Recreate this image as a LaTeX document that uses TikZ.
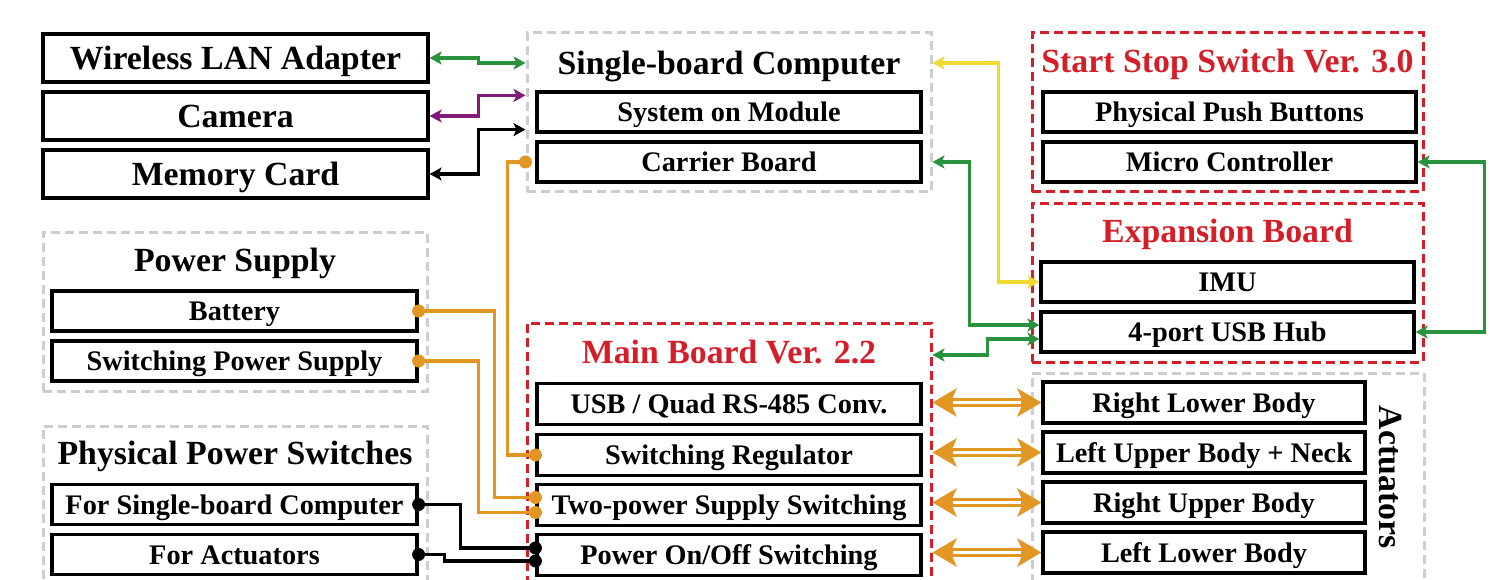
\documentclass[tikz,border=0pt]{standalone}
\usepackage{fontspec}
\setmainfont{Liberation Serif}
\usetikzlibrary{arrows.meta, calc}
\definecolor{LinkGreen}{RGB}{40, 146, 60}
\definecolor{LinkPurple}{RGB}{128, 28, 120}
\definecolor{LinkYellow}{RGB}{238, 218, 48}
\definecolor{LinkOrange}{RGB}{226, 150, 36}
\definecolor{GroupRed}{RGB}{212, 30, 40}
\definecolor{GroupGray}{RGB}{205, 205, 205}
\newcommand{\bigfont}{\fontsize{33.8}{36}\selectfont\bfseries}
\newcommand{\smallfont}{\fontsize{28.3}{30}\selectfont\bfseries}

\begin{document}
\begin{tikzpicture}[
        x=1pt, y=-1pt,
        box/.style={rectangle, draw=black, line width=3.2pt, inner sep=0pt, minimum height=40pt, align=center, font=\smallfont, text height=19pt, text depth=0pt},
        outerbox/.style={box, minimum width=385pt, minimum height=48pt, font=\bigfont, text height=22.6pt},
        redgroup/.style={rectangle, draw=GroupRed, line width=3pt, dash pattern=on 9pt off 5pt, inner sep=0pt},
        graygroup/.style={redgroup, draw=GroupGray},
        grouptitle/.style={inner sep=0pt, font=\bigfont, text height=22.6pt, text depth=0pt},
        link/.style={{Stealth[length=12pt, width=13pt, inset=3pt]}-{Stealth[length=12pt, width=13pt, inset=3pt]}, line width=3.6pt},
        conn/.style={line width=3.6pt},
        dblarrow/.style={{Stealth[length=24pt, width=28pt, inset=6pt]}-{Stealth[length=24pt, width=28pt, inset=6pt]}, line width=9.5pt, LinkOrange, postaction={draw=white, line width=2.8pt, -, shorten <=20pt, shorten >=20pt}}
    ]
        \useasboundingbox (0,0) rectangle (1506,580);
        \clip (0,0) rectangle (1506,580);

        % Groups
        \node[graygroup, minimum width=404pt, minimum height=159pt] (sbcgrp) at (729,112.5) {};
        \node[redgroup, minimum width=391pt, minimum height=159pt] (sssgrp) at (1227.5,112.5) {};
        \node[redgroup, minimum width=391pt, minimum height=159pt] (expgrp) at (1227.5,282.5) {};
        \node[graygroup, minimum width=384pt, minimum height=159pt] (psgrp) at (235,311.5) {};
        \node[graygroup, minimum width=384pt, minimum height=194pt] (ppsgrp) at (235,523) {};
        \node[redgroup, minimum width=404pt, minimum height=297pt] (maingrp) at (729,471.5) {};
        \node[graygroup, minimum width=392pt, minimum height=247pt] (actgrp) at (1228,496.5) {};

        % Group titles
        \node[grouptitle] (sbctitle) at (729,63) {Single-board Computer};
        \node[grouptitle, GroupRed] (ssstitle) at (1227.5,61) {Start Stop Switch Ver. 3.0};
        \node[grouptitle, GroupRed] (exptitle) at (1227.5,231) {Expansion Board};
        \node[grouptitle] (pstitle) at (235,260) {Power Supply};
        \node[grouptitle] (ppstitle) at (235,453) {Physical Power Switches};
        \node[grouptitle, GroupRed] (maintitle) at (729,352) {Main Board Ver. 2.2};
        \node[grouptitle, rotate=-90] (acttitle) at (1391,477) {Actuators};

        % Peripherals
        \node[outerbox] (wlan) at (235.5,58) {Wireless LAN Adapter};
        \node[outerbox] (cam) at (235.5,116) {Camera};
        \node[outerbox] (mem) at (235.5,174) {Memory Card};

        % Single-board computer
        \node[box, minimum width=384pt] (som) at (729,112) {System on Module};
        \node[box, minimum width=384pt] (carrier) at (729,162) {Carrier Board};

        % Start stop switch and expansion board
        \node[box, minimum width=373pt] (ppb) at (1229.5,112) {Physical Push Buttons};
        \node[box, minimum width=373pt] (mc) at (1229.5,162) {Micro Controller};
        \node[box, minimum width=373pt] (imu) at (1227.5,282) {IMU};
        \node[box, minimum width=373pt] (hub) at (1227.5,332) {4-port USB Hub};

        % Power
        \node[box, minimum width=365pt] (battery) at (234.5,311) {Battery};
        \node[box, minimum width=365pt] (sps) at (234.5,361) {Switching Power Supply};
        \node[box, minimum width=365pt] (forsbc) at (234.5,504.5) {For Single-board Computer};
        \node[box, minimum width=365pt] (foract) at (234.5,554.5) {For Actuators};

        % Main board
        \node[box, minimum width=384pt, minimum height=41pt] (usb) at (729,404) {USB / Quad RS-485 Conv.};
        \node[box, minimum width=384pt, minimum height=41pt] (swreg) at (729,455) {Switching Regulator};
        \node[box, minimum width=384pt, minimum height=41pt] (twops) at (729,505) {Two-power Supply Switching};
        \node[box, minimum width=384pt, minimum height=41pt] (pwr) at (729,555) {Power On/Off Switching};

        % Actuators
        \node[box, minimum width=322pt, minimum height=41pt] (rlb) at (1204,402.5) {Right Lower Body};
        \node[box, minimum width=322pt, minimum height=41pt] (lub) at (1204,452.5) {Left Upper Body + Neck};
        \node[box, minimum width=322pt, minimum height=41pt] (rub) at (1204,502.5) {Right Upper Body};
        \node[box, minimum width=322pt, minimum height=41pt] (llb) at (1204,552.5) {Left Lower Body};

        % Line ends
        \coordinate (carrierout) at (sbcgrp.west |- carrier);
        \coordinate (twopsbat) at ($(twops.west)+(0,-7.5)$);
        \coordinate (twopssps) at ($(twops.west)+(0,7.5)$);
        \coordinate (pwrsbc) at ($(pwr.west)+(0,-7)$);
        \coordinate (pwract) at ($(pwr.west)+(0,6)$);

        % Peripheral links
        \draw[link, LinkGreen] (wlan.east) -- ++(49,0) |- (sbcgrp.west |- sbctitle);
        \draw[link, LinkPurple] (cam.east) -- ++(49,0) |- ($(sbcgrp.west |- som.north)+(0,5)$);
        \draw[link, black] (mem.east) -- ++(49,0) |- ($(sbcgrp.west |- som.south)+(0,-4)$);

        % Power lines
        \draw[conn, LinkOrange] (carrierout) -- ++(-18,0) |- (swreg.west);
        \draw[conn, LinkOrange] (battery.east) -- ++(76,0) |- (twopsbat);
        \draw[conn, LinkOrange] (sps.east) -- ++(60,0) |- (twopssps);
        \draw[conn, black] (forsbc.east) -- ++(42,0) |- (pwrsbc);
        \draw[conn, black] (foract.east) -- ++(26,0) |- (pwract);
        \foreach \p in {carrierout, swreg.west, battery.east, sps.east, twopsbat, twopssps}
            \fill[LinkOrange] (\p) circle[radius=6.5pt];
        \foreach \p in {forsbc.east, foract.east, pwrsbc, pwract}
            \fill[black] (\p) circle[radius=6.5pt];

        % USB and serial links
        \draw[link, LinkYellow] (sbcgrp.east |- sbctitle) -- ++(66,0) |- (imu.west);
        \draw[link, LinkGreen] (sbcgrp.east |- carrier) -- ++(37,0) |- ($(hub.west)+(0,-7)$);
        \draw[link, LinkGreen] ($(maingrp.east |- maintitle)+(0,3)$) -- ++(55,0) |- ($(hub.west)+(0,7)$);
        \draw[link, LinkGreen] (mc.east) -- ++(67,0) |- (hub.east);

        % RS-485 buses
        \foreach \act in {rlb, lub, rub, llb}
            \draw[dblarrow] (maingrp.east |- \act) -- (\act.west);

    \end{tikzpicture}
\end{document}
